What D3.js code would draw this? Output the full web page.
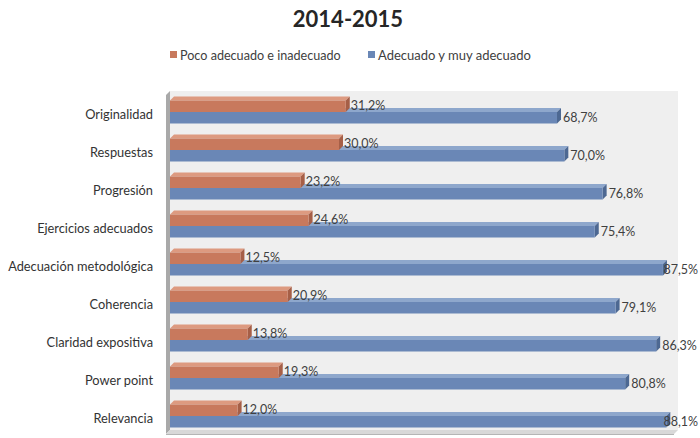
<!DOCTYPE html>
<html><head><meta charset="utf-8">
<script src="https://cdn.jsdelivr.net/npm/d3@7"></script>
<style>body{margin:0;background:#fff}svg{display:block}</style>
</head><body>
<svg id="c" width="700" height="438"></svg>
<script>
const categories = ["Originalidad","Respuestas","Progresión","Ejercicios adecuados","Adecuación metodológica","Coherencia","Claridad expositiva","Power point","Relevancia"];
const seriesNames = ["Poco adecuado e inadecuado","Adecuado y muy adecuado"];
const poco = [31.2,30.0,23.2,24.6,12.5,20.9,13.8,19.3,12.0];
const adecuado = [68.7,70.0,76.8,75.4,87.5,79.1,86.3,80.8,88.1];
const title = "2014-2015";

const svg = d3.select("#c");
const font = "Lato, 'Open Sans', sans-serif";
const col = {
  o:{front:"#c8795d", top:"#dd9a80", side:"#a65f47"},
  b:{front:"#6a87b6", top:"#8ea7cc", side:"#4d6892"}
};
const d = 4;
const x = d3.scaleLinear().domain([0,90]).range([170,677]);
const y = d3.scaleBand().domain(categories).range([93,435]).paddingInner(0).paddingOuter(0);
const bh = 11.5;

// walls
const wx0 = 166, wy0 = 91, wx1 = 678, wy1 = 430;
svg.append("rect").attr("x",wx0+d).attr("y",wy0).attr("width",wx1-wx0-d).attr("height",wy1-wy0).attr("fill","#efefef");
svg.append("polygon").attr("points",`${wx0},${wy0+d} ${wx0+d},${wy0} ${wx0+d},${wy1} ${wx0},${wy1+d}`).attr("fill","#a9a9a9");
svg.append("polygon").attr("points",`${wx0},${wy1+d} ${wx0+d},${wy1} ${wx1},${wy1} ${wx1-d},${wy1+d}`).attr("fill","#d8d8d8");
svg.append("line").attr("x1",wx0).attr("x2",wx1-d).attr("y1",wy1+d+0.5).attr("y2",wy1+d+0.5).attr("stroke","#b5b5b5");

function bar(g, x0, x1, yt, c){
  g.append("polygon").attr("points",`${x0},${yt} ${x0+d},${yt-d} ${x1+d},${yt-d} ${x1},${yt}`).attr("fill",c.top);
  g.append("polygon").attr("points",`${x1},${yt} ${x1+d},${yt-d} ${x1+d},${yt+bh-d} ${x1},${yt+bh}`).attr("fill",c.side);
  g.append("rect").attr("x",x0).attr("y",yt).attr("width",x1-x0).attr("height",bh).attr("fill",c.front);
}
const fmt = v => v.toFixed(1).replace(".",",")+"%";

categories.forEach((cat,i)=>{
  const g = svg.append("g");
  const mid = y(cat) + y.bandwidth()/2;
  bar(g, x(0), x(adecuado[i]), mid, col.b);
  bar(g, x(0), x(poco[i]), mid-bh, col.o);
  const tb = g.append("text").attr("x",x(adecuado[i])+d+2).attr("y",mid+bh/2+4.5)
    .attr("font-family",font).attr("font-size",12.5).attr("fill","#404040")
    .text(fmt(adecuado[i]));
  const w = tb.node().getComputedTextLength();
  if (x(adecuado[i])+d+2+w > 698) tb.attr("x", 698 - w);
  g.append("text").attr("x",x(poco[i])+d+1).attr("y",mid-bh/2+4)
    .attr("font-family",font).attr("font-size",12.5).attr("fill","#404040")
    .text(fmt(poco[i]));
  svg.append("text").attr("x",153).attr("y",mid+7).attr("text-anchor","end")
    .attr("font-family",font).attr("font-size",12.8).attr("fill","#333")
    .text(cat);
});

svg.append("text").attr("x",348).attr("y",27).attr("text-anchor","middle")
  .attr("font-family",font).attr("font-weight","bold").attr("font-size",22).attr("fill","#262626").text(title);

const leg = [{n:seriesNames[0],c:col.o.front,x:170,fs:12.6},{n:seriesNames[1],c:col.b.front,x:368,fs:13}];
leg.forEach(l=>{
  svg.append("rect").attr("x",l.x).attr("y",51).attr("width",7).attr("height",7).attr("fill",l.c);
  svg.append("text").attr("x",l.x+10).attr("y",59.5).attr("font-family",font).attr("font-size",l.fs).attr("fill","#404040").text(l.n);
});
</script>
</body></html>
